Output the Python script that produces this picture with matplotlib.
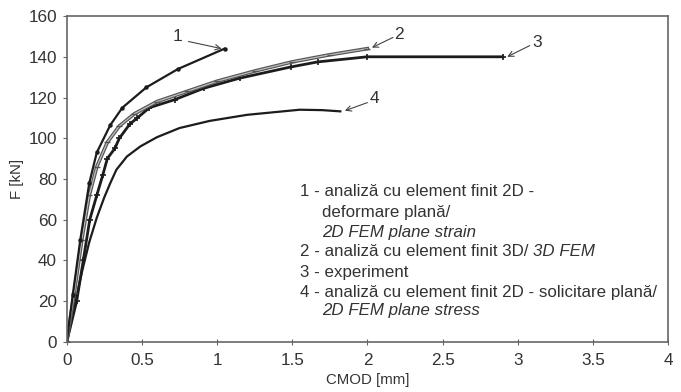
import numpy as np
import matplotlib
matplotlib.use("Agg")
import matplotlib.pyplot as plt

plt.rcParams["font.family"] = ["Liberation Sans", "DejaVu Sans"]
plt.rcParams["font.size"] = 9.5

# curve 1 - 2D FEM plane strain
c1_x = [0, 0.04, 0.09, 0.15, 0.20, 0.29, 0.37, 0.53, 0.74, 1.05]
c1_y = [0, 23, 50, 78, 93, 106.5, 115, 125, 134, 144]

# curve 2 - 3D FEM
c2_x = [0, 0.05, 0.10, 0.15, 0.20, 0.27, 0.35, 0.45, 0.60, 0.80, 1.00, 1.25, 1.50, 1.75, 2.00]
c2_y = [0, 24, 50, 72, 86, 98, 106, 112, 118, 123, 128, 133, 137.5, 141, 144]

# curve 3 - experiment
c3_x = [0, 0.066, 0.11, 0.153, 0.20, 0.24, 0.27, 0.32, 0.35, 0.42, 0.47, 0.55, 0.72,
        0.91, 1.15, 1.49, 1.67, 2.00, 2.90]
c3_y = [0, 20, 40, 60, 72, 82, 90, 95, 100, 107, 110, 115, 119,
        124.5, 129.5, 135, 137.5, 140, 140]

# curve 4 - 2D FEM plane stress
c4_x = [0, 0.05, 0.10, 0.15, 0.20, 0.25, 0.29, 0.33, 0.40, 0.49, 0.60, 0.75, 0.95,
        1.20, 1.55, 1.70, 1.82]
c4_y = [0, 17, 34, 49, 61, 71, 78, 84.5, 91, 96, 100.5, 105, 108.5,
        111.5, 114, 113.8, 113.2]

labels = ["1", "2", "3", "4"]
label_xy = [(0.74, 150), (2.21, 151), (3.13, 147), (2.05, 119.5)]
arrow_tip = [(1.03, 144), (2.03, 144.5), (2.93, 140), (1.85, 113.5)]
arrow_tail = [(0.81, 147.5), (2.17, 149.5), (3.08, 145.5), (2.0, 117.5)]

fig = plt.figure(figsize=(6.81, 3.92), dpi=100)
ax = fig.add_axes([0.098, 0.128, 0.883, 0.831])

dark = "#1c1c1c"
ax.plot(c4_x, c4_y, color=dark, lw=1.6)
ax.plot(c3_x, c3_y, color=dark, lw=2.0, marker="+", ms=4, mew=1.2)
ax.plot(c2_x, c2_y, color="#555555", lw=2.6)
ax.plot(c2_x, c2_y, color="#bdbdbd", lw=0.9, marker="_", ms=4, mec="#555555")
ax.plot(c1_x, c1_y, color=dark, lw=1.6, marker="o", ms=2.2)

for lab, (tx, ty), tip, tail in zip(labels, label_xy, arrow_tip, arrow_tail):
    ax.text(tx, ty, lab, fontsize=12.5, color="#333333", ha="center", va="center")
    ax.annotate("", xy=tip, xytext=tail,
                arrowprops=dict(arrowstyle="->", color="#444444", lw=0.8,
                                shrinkA=0, shrinkB=0))

ax.set_xlim(0, 4)
ax.set_ylim(0, 160)
ax.set_xticks(np.arange(0, 4.01, 0.5))
ax.set_xticklabels(["0", "0.5", "1", "1.5", "2", "2.5", "3", "3.5", "4"])
ax.set_yticks(np.arange(0, 161, 20))
ax.set_xlabel("CMOD [mm]", color="#333333", fontsize=10.8, labelpad=4)
ax.set_ylabel("F [kN]", color="#333333", fontsize=10.8, labelpad=3)
for s in ax.spines.values():
    s.set_color("#666666")
    s.set_linewidth(1.2)
ax.tick_params(axis="x", direction="inout", length=4, colors="#666666", labelcolor="#333333",
               labelsize=12.3, pad=6)
ax.tick_params(axis="y", direction="out", length=3, colors="#666666", labelcolor="#333333",
               labelsize=12.3, pad=4)

# legend text block
lines = [
    (300, 192, [("1 - analiză cu element finit 2D -", "normal")]),
    (322, 212, [("deformare plană/", "normal")]),
    (322, 232, [("2D FEM plane strain", "italic")]),
    (300, 252, [("2 - analiză cu element finit 3D/ ", "normal"), ("3D FEM", "italic")]),
    (300, 272, [("3 - experiment", "normal")]),
    (300, 292, [("4 - analiză cu element finit 2D - solicitare plană/", "normal")]),
    (322, 311, [("2D FEM plane stress", "italic")]),
]
renderer = fig.canvas.get_renderer()
for px, py, parts in lines:
    x = px
    for txt, style in parts:
        t = fig.text(x / 681, 1 - py / 392, txt, fontsize=12.2, style=style,
                     color="#333333", va="center", ha="left")
        x = t.get_window_extent(renderer).x1

fig.savefig("out.png", dpi=100)
